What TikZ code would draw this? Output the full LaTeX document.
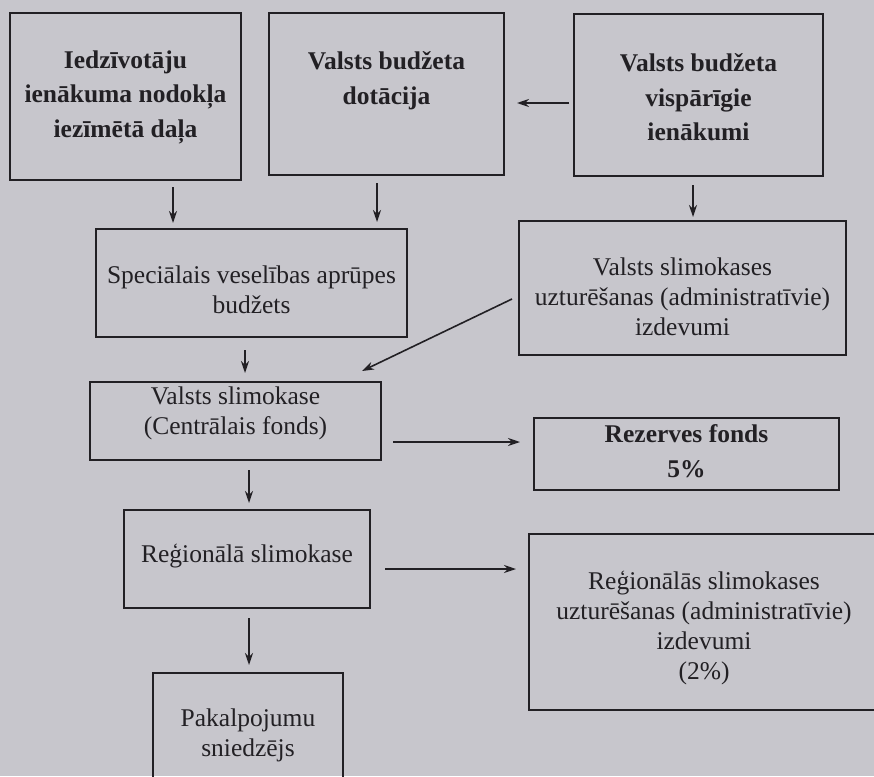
\documentclass[tikz,border=0pt]{standalone}
\usepackage{fontspec}
\setmainfont{Liberation Serif}
\usetikzlibrary{arrows.meta,calc}
\definecolor{paper}{RGB}{199,198,204}
\definecolor{ink}{RGB}{34,32,36}
\begin{document}
\begin{tikzpicture}[x=1pt,y=-1pt,
  box/.style={draw=ink,line width=1.8pt,inner sep=0pt,outer sep=0pt},
  txtb/.style={text=ink,align=center,inner sep=0pt,font=\fontsize{25.5}{34.5}\selectfont\bfseries},
  txt/.style={text=ink,align=center,inner sep=0pt,font=\fontsize{25.5}{30}\selectfont},
  arr/.style={draw=ink,line width=1.6pt,-{Stealth[length=12pt,width=8pt]}}]
\useasboundingbox (0,0) rectangle (874,776);
\fill[paper] (0,0) rectangle (874,776);

% boxes
\node[box,minimum width=231pt,minimum height=167pt] (b1) at (125.5,96.5) {};
\node[box,minimum width=235pt,minimum height=162pt] (b2) at (386.5,94) {};
\node[box,minimum width=249pt,minimum height=162pt] (b3) at (698.5,95) {};
\node[box,minimum width=311pt,minimum height=108pt] (b4) at (251.5,283) {};
\node[box,minimum width=327pt,minimum height=134pt] (b5) at (682.5,288) {};
\node[box,minimum width=291pt,minimum height=78pt] (b6) at (235.5,421) {};
\node[box,minimum width=305pt,minimum height=72pt] (b7) at (686.5,454) {};
\node[box,minimum width=246pt,minimum height=98pt] (b8) at (247,559) {};
\node[box,minimum width=350pt,minimum height=176pt] (b9) at (704,622) {};
\node[box,minimum width=190pt,minimum height=124pt] (b10) at (248,735) {};

% texts
\node[txtb] (t1) at (125.5,97) {Iedzīvotāju\\ienākuma nodokļa\\iezīmētā daļa};
\node[txtb] (t2) at (386.5,80.5) {Valsts budžeta\\dotācija};
\node[txtb] (t3) at (698.5,97.5) {Valsts budžeta\\vispārīgie\\ienākumi};
\node[txt] (t4) at (251.5,290) {Speciālais veselības aprūpes\\budžets};
\node[txt] (t5) at (682.5,297) {Valsts slimokases\\uzturēšanas (administratīvie)\\izdevumi};
\node[txt] (t6) at (235.5,413) {Valsts slimokase\\(Centrālais fonds)};
\node[txtb] (t7) at (686.5,451) {Rezerves fonds\\5\%};
\node[txt] (t8) at (247,556) {Reģionālā slimokase};
\node[txt] (t9) at (704,628) {Reģionālās slimokases\\uzturēšanas (administratīvie)\\izdevumi\\(2\%)};
\node[txt] (t10) at (248,735) {Pakalpojumu\\sniedzējs};

% connectors
\draw[arr] ($(b1.south)+(47.5,7)$) -- ($(b4.north)+(-78.5,-6)$);
\draw[arr] ($(b2.south)+(-9.5,8)$) -- ($(b4.north)+(125.5,-7)$);
\draw[arr] ($(b3.south)+(-5.5,9)$) -- ($(b5.north)+(10.5,-4)$);
\draw[arr] ($(b3.west)+(-5,8)$) -- ($(b2.east)+(13,9)$);
\draw[arr] ($(b5.west)+(-7,11)$) -- ($(b6.north)+(126.5,-11)$);
\draw[arr] ($(b4.south)+(-6.5,13)$) -- ($(b6.north)+(9.5,-9)$);
\draw[arr] ($(b6.east)+(12,21)$) -- ($(b7.west)+(-14,-12)$);
\draw[arr] ($(b6.south)+(13.5,10)$) -- ($(b8.north)+(2,-7)$);
\draw[arr] ($(b8.east)+(15,10)$) -- ($(b9.west)+(-13,-53)$);
\draw[arr] ($(b8.south)+(2,10)$) -- ($(b10.north)+(1,-8)$);
\end{tikzpicture}
\end{document}
